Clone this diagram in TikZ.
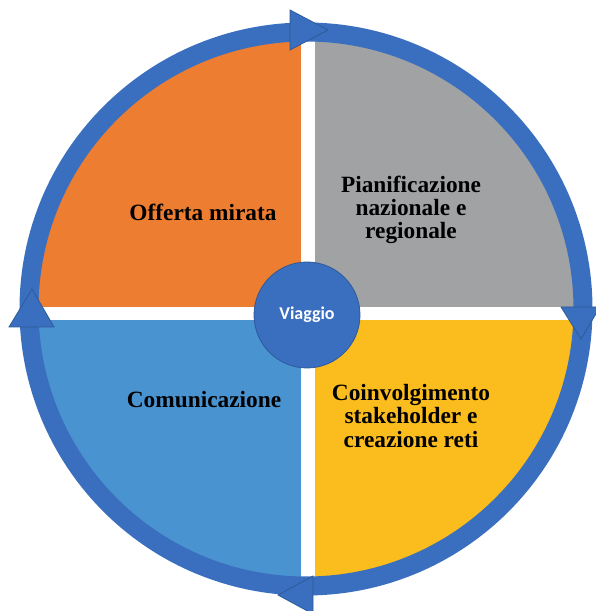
\documentclass[tikz,border=0pt]{standalone}
\usepackage{fontspec}
\setmainfont{Liberation Serif}
\newfontfamily\hubfont{Carlito}
\definecolor{orangeq}{HTML}{ED7D31}
\definecolor{grayq}{HTML}{A0A2A4}
\definecolor{blueq}{HTML}{4A93D1}
\definecolor{yellowq}{HTML}{FBBC1E}
\definecolor{ringblue}{HTML}{3A6FBF}
\definecolor{ringedge}{HTML}{2E5A99}

\begin{document}
\begin{tikzpicture}[x=0.75pt, y=0.75pt,
  quadtext/.style={font=\bfseries\fontsize{17.5}{17.5}\selectfont, align=center, text=black},
  arrowtri/.style={fill=ringblue, draw=ringedge, line width=0.6pt, line join=miter}]
  \useasboundingbox (0,0) rectangle (596,611);
  \begin{scope}
    \clip (306,302) circle (270);
    \fill[orangeq] (0,304) rectangle (301,611);
    \fill[grayq] (315,304) rectangle (596,611);
    \fill[blueq] (0,0) rectangle (301,291);
    \fill[yellowq] (315,0) rectangle (596,291);
  \end{scope}
  \draw[ringblue, line width=14.25pt] (306,302) circle (277);
  \filldraw[arrowtri] (290,601) -- (328,581) -- (290,561) -- cycle;
  \filldraw[arrowtri] (561,304) -- (600,304) -- (581,272) -- cycle;
  \filldraw[arrowtri] (313,35) -- (278,16) -- (313,-3) -- cycle;
  \filldraw[arrowtri] (9,284) -- (32,322) -- (54,284) -- cycle;
  \node[circle, fill=ringblue, draw=ringedge, line width=0.6pt, minimum size=79.5pt,
    text=white, font=\hubfont\bfseries\fontsize{13.5}{13.5}\selectfont] (hub) at (307,296) {Viaggio};
  \node[quadtext] (offerta) at (203,399) {Offerta mirata};
  \node[quadtext] (pianif) at (411,401) {Pianificazione\\nazionale e\\regionale};
  \node[quadtext] (comun) at (204,211) {Comunicazione};
  \node[quadtext] (coinv) at (411,195) {Coinvolgimento\\stakeholder e\\creazione reti};
\end{tikzpicture}
\end{document}
